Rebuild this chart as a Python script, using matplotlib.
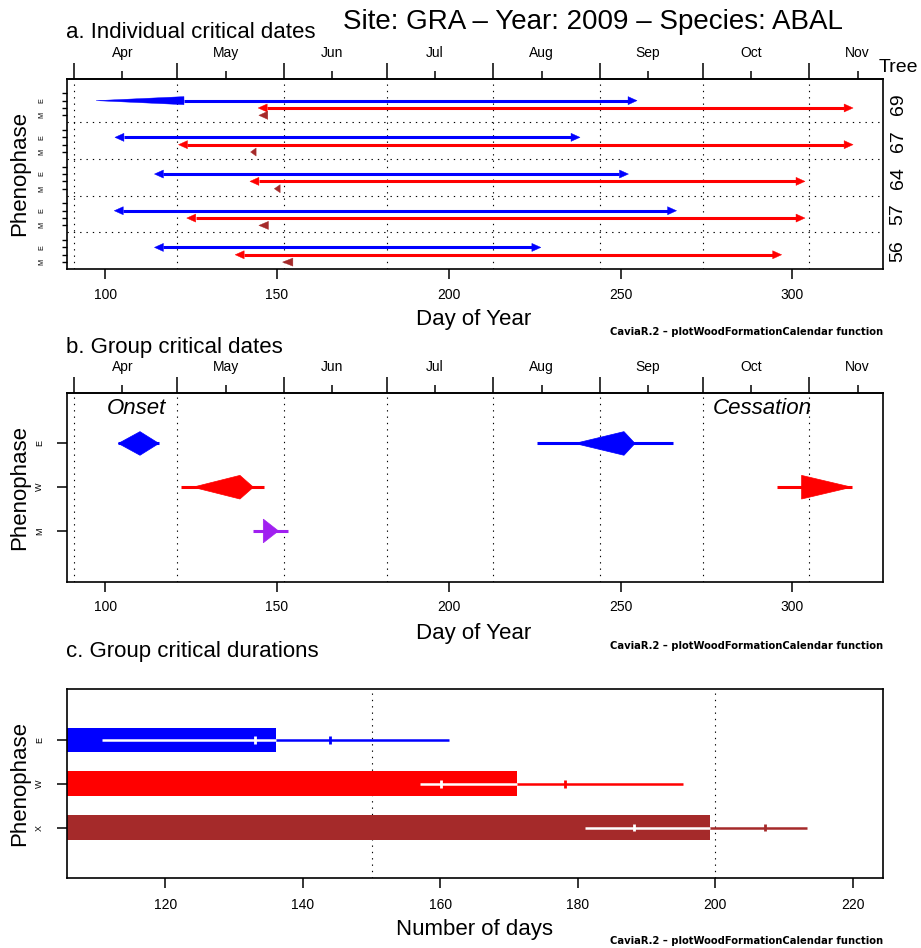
import matplotlib
matplotlib.use('Agg')
import matplotlib.pyplot as plt
from matplotlib.patches import Polygon
import matplotlib.transforms as mtransforms

plt.rcParams['font.family'] = ['Liberation Sans', 'DejaVu Sans']

# ---------------- data ----------------
month_names = ['Apr', 'May', 'Jun', 'Jul', 'Aug', 'Sep', 'Oct', 'Nov']
month_starts = [91, 121, 152, 182, 213, 244, 274, 305]
month_mids = [105, 135, 166, 196, 227, 258, 288, 319]

trees = ['69', '67', '64', '57', '56']
e_start = [97.3, 102.8, 114.3, 102.6, 114.3]
e_start_base = [122.9, None, None, None, None]
e_end = [254.8, 238.2, 252.3, 266.3, 226.8]
w_start = [144.5, 121.3, 142.1, 123.7, 137.8]
w_end = [317.7, 317.7, 303.7, 303.7, 296.9]
m_start = [144.7, 142.3, 149.2, 144.7, 151.6]
m_end = [147.3, 143.9, 150.9, 147.5, 154.6]

group_phases = ['E', 'W', 'M']
# onset: line min, line max, polygon left, polygon peak, polygon right
onset_line_lo = [103.8, 122.0, 142.9]
onset_line_hi = [115.6, 146.2, 153.3]
onset_left = [103.8, 125.5, 146.0]
onset_peak = [110.1, 139.2, 146.0]
onset_right = [115.6, 143.1, 150.4]
# cessation (E, W only)
cess_line_lo = [225.8, 295.6]
cess_line_hi = [265.2, 317.3]
cess_left = [236.7, 302.7]
cess_peak = [251.0, 302.7]
cess_right = [254.2, 317.3]

dur_phases = ['E', 'W', 'X']
dur_bar = [136.1, 171.1, 199.3]
dur_lo = [110.8, 157.0, 181.0]
dur_hi = [161.2, 195.3, 213.4]
dur_t1 = [133.0, 160.1, 188.2]
dur_t2 = [144.0, 178.1, 207.3]

BLUE, RED, BROWN, PURPLE = '#0000FF', '#FF0000', '#A52A2A', '#A020F0'
phase_col = {'E': BLUE, 'W': RED, 'M': PURPLE, 'X': BROWN}

# ---------------- layout ----------------
W, H = 921, 948
def fx(px): return px / W
def fy(py): return 1 - py / H

fig = plt.figure(figsize=(W / 100, H / 100), dpi=100)
L, R = 66.7, 883

def make_ax(top, bottom):
    return fig.add_axes([fx(L), fy(bottom), fx(R) - fx(L), fy(top) - fy(bottom)])

axA = make_ax(79, 269)
axB = make_ax(392.7, 581.7)
axC = make_ax(689.3, 878.3)

DOT = (0, (1.2, 4.5))
FOOT = 'CaviaR.2 \u2013 plotWoodFormationCalendar function'

def style_frame(ax):
    for s in ax.spines.values():
        s.set_linewidth(1.2)

def month_axis(ax):
    sec = ax.secondary_xaxis('top')
    sec.set_xticks(month_starts)
    sec.set_xticklabels([''] * len(month_starts))
    sec.set_xticks(month_mids, minor=True)
    sec.set_xticklabels(month_names, minor=True)
    sec.tick_params(which='major', length=11.5, width=1.1)
    sec.tick_params(which='minor', length=5.8, width=1.1, labelsize=10, pad=8)
    sec.spines['top'].set_linewidth(1.2)

# ---------------- panel a ----------------
ax = axA
ax.set_xlim(88.76, 326.4)
ax.set_ylim(23.94, -1.95)
style_frame(ax)
for d in month_starts:
    ax.axvline(d, color='black', lw=0.8, ls=DOT, zorder=1)
for i in range(len(trees) - 1):
    ax.axhline(i * 5 + 3.95, color='black', lw=0.8, ls=DOT, zorder=1)

HL, HW = 2.62, 0.55

def head(ax, tip, base, y, color, hw=HW):
    ax.add_patch(Polygon([(tip, y), (base, y - hw), (base, y + hw)], closed=True,
                         facecolor=color, edgecolor=color, lw=0.3, zorder=3))

def arrow2(ax, y, x0, x1, color, base0=None):
    b0 = base0 if base0 is not None else x0 + HL
    b1 = x1 - HL
    ax.plot([b0, b1], [y, y], color=color, lw=2.2, solid_capstyle='butt', zorder=3)
    head(ax, x0, b0, y, color)
    head(ax, x1, b1, y, color)

yticks = []
trans_lab = mtransforms.blended_transform_factory(fig.transFigure, ax.transData)
for i, t in enumerate(trees):
    y0 = i * 5
    yticks += [y0, y0 + 1, y0 + 2, y0 + 3]
    arrow2(ax, y0 + 1, e_start[i], e_end[i], BLUE, e_start_base[i])
    arrow2(ax, y0 + 2, w_start[i], w_end[i], RED)
    head(ax, m_start[i], m_end[i], y0 + 3, BROWN)
    ax.text(fx(41.7), y0 + 1, 'E', transform=trans_lab, rotation=90, fontsize=5.2,
            ha='center', va='center')
    ax.text(fx(41.7), y0 + 3, 'M', transform=trans_lab, rotation=90, fontsize=5.2,
            ha='center', va='center')
    ax.text(fx(898), y0 + 1.5, t, transform=trans_lab, rotation=90, fontsize=14,
            ha='center', va='center')
ax.set_yticks(yticks)
ax.set_yticklabels([])
ax.tick_params(axis='y', length=3.6, width=1.0)
ax.set_xticks([100, 150, 200, 250, 300])
ax.tick_params(axis='x', length=7, width=1.1, labelsize=10, pad=6.5)
month_axis(ax)
fig.text(fx(898), fy(67), 'Tree', ha='center', va='center', fontsize=14)

# ---------------- panel b ----------------
ax = axB
ax.set_xlim(88.76, 326.4)
ax.set_ylim(4.16, -0.16)
style_frame(ax)
for d in month_starts:
    ax.axvline(d, color='black', lw=0.8, ls=DOT, zorder=1)
SH = 0.27

def shape(ax, y, lo, hi, left, peak, right, color):
    ax.plot([lo, hi], [y, y], color=color, lw=2.2, solid_capstyle='butt', zorder=2)
    ax.add_patch(Polygon([(left, y), (peak, y - SH), (right, y), (peak, y + SH)],
                         closed=True, facecolor=color, edgecolor=color, lw=0.5, zorder=3))

for k, ph in enumerate(group_phases):
    shape(ax, k + 1, onset_line_lo[k], onset_line_hi[k], onset_left[k], onset_peak[k],
          onset_right[k], phase_col[ph])
for k in range(len(cess_left)):
    ph = group_phases[k]
    shape(ax, k + 1, cess_line_lo[k], cess_line_hi[k], cess_left[k], cess_peak[k],
          cess_right[k], phase_col[ph])
ax.set_yticks([1, 2, 3])
ax.set_yticklabels([])
ax.tick_params(axis='y', length=7, width=1.1)
transB = mtransforms.blended_transform_factory(fig.transFigure, ax.transData)
for k, ph in enumerate(group_phases):
    ax.text(fx(39.3), k + 1, ph, transform=transB, rotation=90, fontsize=6.5,
            ha='center', va='center')
ax.set_xticks([100, 150, 200, 250, 300])
ax.tick_params(axis='x', length=7, width=1.1, labelsize=10, pad=6.5)
month_axis(ax)
fig.text(fx(136), fy(408), 'Onset', fontsize=16, style='italic', ha='center', va='center')
fig.text(fx(762), fy(408), 'Cessation', fontsize=16, style='italic', ha='center', va='center')

# ---------------- panel c ----------------
ax = axC
ax.set_xlim(105.65, 224.4)
ax.set_ylim(4.16, -0.16)
style_frame(ax)
for d in [150, 200]:
    ax.axvline(d, color='black', lw=0.8, ls=DOT, zorder=1)
BH = 0.563
TH = 0.09
for k, ph in enumerate(dur_phases):
    y = k + 1
    c = phase_col[ph]
    ax.barh(y, dur_bar[k], left=0, height=BH, color=c, zorder=2)
    ax.plot([dur_lo[k], dur_hi[k]], [y, y], color=c, lw=1.8, solid_capstyle='butt', zorder=3)
    ax.plot([dur_lo[k], min(dur_hi[k], dur_bar[k])], [y, y], color='white', lw=1.8,
            solid_capstyle='butt', zorder=4)
    for t in (dur_t1[k], dur_t2[k]):
        tc = 'white' if t < dur_bar[k] else c
        ax.plot([t, t], [y - TH, y + TH], color=tc, lw=2.0, solid_capstyle='butt', zorder=5)
ax.set_yticks([1, 2, 3])
ax.set_yticklabels([])
ax.tick_params(axis='y', length=7, width=1.1)
transC = mtransforms.blended_transform_factory(fig.transFigure, ax.transData)
for k, ph in enumerate(dur_phases):
    ax.text(fx(39.3), k + 1, ph, transform=transC, rotation=90, fontsize=6.5,
            ha='center', va='center')
ax.set_xticks([120, 140, 160, 180, 200, 220])
ax.tick_params(axis='x', length=7, width=1.1, labelsize=10, pad=7.5)

# ---------------- texts ----------------
fig.text(fx(593), fy(22), 'Site: GRA \u2013 Year: 2009 \u2013 Species: ABAL', ha='center',
         va='center', fontsize=20)
fig.text(fx(66), fy(33), 'a. Individual critical dates', ha='left', va='center', fontsize=16)
fig.text(fx(66), fy(347), 'b. Group critical dates', ha='left', va='center', fontsize=16)
fig.text(fx(66), fy(652), 'c. Group critical durations', ha='left', va='center', fontsize=16)
fig.text(fx(474), fy(320), 'Day of Year', ha='center', va='center', fontsize=16)
fig.text(fx(474), fy(633), 'Day of Year', ha='center', va='center', fontsize=16)
fig.text(fx(474), fy(929), 'Number of days', ha='center', va='center', fontsize=16)
for yc in (174, 487, 783):
    fig.text(fx(20), fy(yc), 'Phenophase', rotation=90, ha='center', va='center', fontsize=16)
for yy in (332, 646, 941):
    fig.text(fx(883), fy(yy), FOOT, ha='right', va='center', fontsize=7.2,
             fontweight='bold', family='DejaVu Sans')

fig.savefig('out.png', dpi=100)
